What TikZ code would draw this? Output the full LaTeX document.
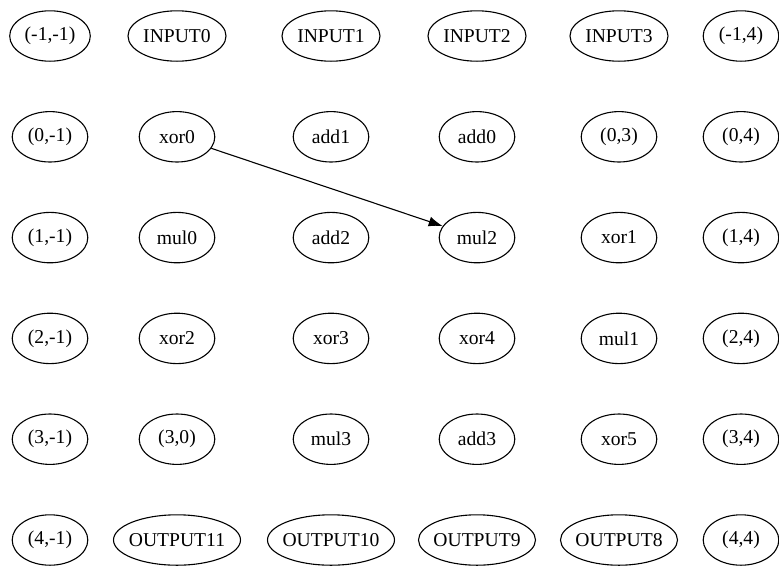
\documentclass[tikz,border=0pt]{standalone}
\usepackage{fontspec}
\setmainfont{Liberation Serif}
\usetikzlibrary{shapes.geometric,arrows.meta}
\begin{document}
\begin{tikzpicture}[x=1pt,y=-1pt,
  gv/.style={ellipse,draw,line width=1.1pt,inner sep=0pt,minimum height=50.4pt,minimum width=75.6pt,
    font=\fontsize{19.6}{22}\selectfont},
  wA/.style={minimum width=80.6pt},
  wIn/.style={minimum width=98pt},
  wOa/.style={minimum width=127pt},
  wOb/.style={minimum width=117pt},
  edge/.style={line width=1.1pt,-{Latex[length=14pt,width=10pt]}}]
\useasboundingbox (0,0) rectangle (779,571);
\def\ca{50}\def\cb{177}\def\cc{331}\def\cd{477}\def\ce{619}\def\cf{741}
\def\ra{36}\def\rb{136.8}\def\rc{237.6}\def\rd{338.4}\def\re{439.2}\def\rf{540}
% row 0
\node[gv,wA] (m1m1) at (\ca,\ra) {\makebox[0pt]{(-1,-1)}};
\node[gv,wIn] (in0) at (\cb,\ra) {\makebox[0pt]{INPUT0}};
\node[gv,wIn] (in1) at (\cc,\ra) {\makebox[0pt]{INPUT1}};
\node[gv,wIn] (in2) at (\cd,\ra) {\makebox[0pt]{INPUT2}};
\node[gv,wIn] (in3) at (\ce,\ra) {\makebox[0pt]{INPUT3}};
\node[gv] (m14) at (\cf,\ra) {\makebox[0pt]{(-1,4)}};
% row 1
\node[gv] (n0m1) at (\ca,\rb) {\makebox[0pt]{(0,-1)}};
\node[gv] (xor0) at (\cb,\rb) {\makebox[0pt]{xor0}};
\node[gv] (add1) at (\cc,\rb) {\makebox[0pt]{add1}};
\node[gv] (add0) at (\cd,\rb) {\makebox[0pt]{add0}};
\node[gv] (n03) at (\ce,\rb) {\makebox[0pt]{(0,3)}};
\node[gv] (n04) at (\cf,\rb) {\makebox[0pt]{(0,4)}};
% row 2
\node[gv] (n1m1) at (\ca,\rc) {\makebox[0pt]{(1,-1)}};
\node[gv] (mul0) at (\cb,\rc) {\makebox[0pt]{mul0}};
\node[gv] (add2) at (\cc,\rc) {\makebox[0pt]{add2}};
\node[gv] (mul2) at (\cd,\rc) {\makebox[0pt]{mul2}};
\node[gv] (xor1) at (\ce,\rc) {\makebox[0pt]{xor1}};
\node[gv] (n14) at (\cf,\rc) {\makebox[0pt]{(1,4)}};
% row 3
\node[gv] (n2m1) at (\ca,\rd) {\makebox[0pt]{(2,-1)}};
\node[gv] (xor2) at (\cb,\rd) {\makebox[0pt]{xor2}};
\node[gv] (xor3) at (\cc,\rd) {\makebox[0pt]{xor3}};
\node[gv] (xor4) at (\cd,\rd) {\makebox[0pt]{xor4}};
\node[gv] (mul1) at (\ce,\rd) {\makebox[0pt]{mul1}};
\node[gv] (n24) at (\cf,\rd) {\makebox[0pt]{(2,4)}};
% row 4
\node[gv] (n3m1) at (\ca,\re) {\makebox[0pt]{(3,-1)}};
\node[gv] (n30) at (\cb,\re) {\makebox[0pt]{(3,0)}};
\node[gv] (mul3) at (\cc,\re) {\makebox[0pt]{mul3}};
\node[gv] (add3) at (\cd,\re) {\makebox[0pt]{add3}};
\node[gv] (xor5) at (\ce,\re) {\makebox[0pt]{xor5}};
\node[gv] (n34) at (\cf,\re) {\makebox[0pt]{(3,4)}};
% row 5
\node[gv] (n4m1) at (\ca,\rf) {\makebox[0pt]{(4,-1)}};
\node[gv,wOa] (out11) at (\cb,\rf) {\makebox[0pt]{OUTPUT11}};
\node[gv,wOa] (out10) at (\cc,\rf) {\makebox[0pt]{OUTPUT10}};
\node[gv,wOb] (out9) at (\cd,\rf) {\makebox[0pt]{OUTPUT9}};
\node[gv,wOb] (out8) at (\ce,\rf) {\makebox[0pt]{OUTPUT8}};
\node[gv] (n44) at (\cf,\rf) {\makebox[0pt]{(4,4)}};
% edge
\draw[edge] (xor0) -- (mul2);
\end{tikzpicture}
\end{document}
